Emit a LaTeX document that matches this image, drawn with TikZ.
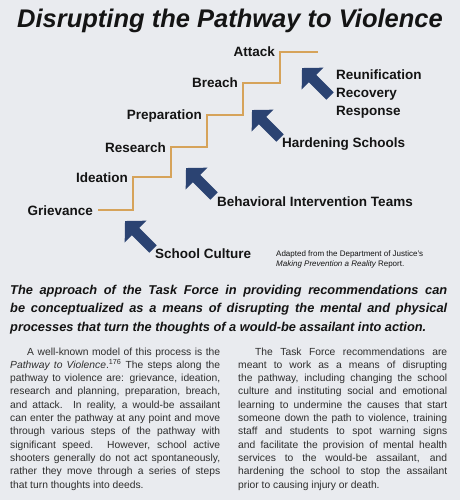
\documentclass[tikz,border=0pt]{standalone}
\usepackage{fontspec}
\setmainfont{Liberation Sans}
\usetikzlibrary{arrows.meta}
\definecolor{bgc}{HTML}{E9EBEF}
\definecolor{stepc}{HTML}{D6A35A}
\definecolor{navy}{HTML}{2B4372}
\definecolor{ink}{HTML}{141414}
\definecolor{bodyc}{HTML}{2E2E2E}
\begin{document}
\begin{tikzpicture}[x=1pt,y=-1pt,
  steplabel/.style={font=\fontsize{13.5}{16}\selectfont\bfseries, text=ink, inner sep=0pt, anchor=base east},
  armlabel/.style={font=\fontsize{13.5}{16}\selectfont\bfseries, text=ink, inner sep=0pt, anchor=base west},
  stairline/.style={draw=stepc, line width=2.4pt, line join=miter},
  blockarrow/.style={draw=navy, line width=10.5pt, -{Triangle[width=30pt,length=15pt]}},
  notetext/.style={font=\fontsize{8}{10}\selectfont, text=ink, inner sep=0pt, anchor=base west},
  bodytext/.style={font=\fontsize{10.3}{13.3}\selectfont, text=bodyc, inner sep=0pt, anchor=base west, text width=210pt, align=justify},
]
\fill[bgc] (0,0) rectangle (460,500);
\useasboundingbox (0,0) rectangle (460,500);

% title
\node[font=\fontsize{25.5}{30}\selectfont\bfseries\itshape, text=ink, inner sep=0pt, anchor=base] (title) at (230,28) {Disrupting the Pathway to Violence};

% staircase
\coordinate (g0) at (98,210);
\coordinate (g1) at (133,210);
\coordinate (i1) at (133,177);
\coordinate (i2) at (171,177);
\coordinate (r1) at (171,147);
\coordinate (r2) at (207,147);
\coordinate (p1) at (207,115);
\coordinate (p2) at (243,115);
\coordinate (b1) at (243,83);
\coordinate (b2) at (280,83);
\coordinate (a1) at (280,52);
\coordinate (a2) at (318,52);
\draw[stairline] (g0) -- (g1) -- (i1) -- (i2) -- (r1) -- (r2) -- (p1) -- (p2) -- (b1) -- (b2) -- (a1) -- (a2);

% step labels
\node[steplabel] (grievance) at (93,215) {Grievance};
\node[steplabel] (ideation) at (128,182) {Ideation};
\node[steplabel] (research) at (166,152) {Research};
\node[steplabel] (preparation) at (202,120) {Preparation};
\node[steplabel] (breach) at (238,88) {Breach};
\node[steplabel] (attack) at (275,57) {Attack};

% arrows
\coordinate (t1) at (125,221); \coordinate (s1) at (153,249);
\coordinate (t2) at (186,168); \coordinate (s2) at (214,196);
\coordinate (t3) at (252,110); \coordinate (s3) at (280,138);
\coordinate (t4) at (302,68);  \coordinate (s4) at (330,96);
\draw[blockarrow] (s1) -- (t1);
\draw[blockarrow] (s2) -- (t2);
\draw[blockarrow] (s3) -- (t3);
\draw[blockarrow] (s4) -- (t4);

% arrow labels
\node[armlabel] (culture) at (155,258) {School Culture};
\node[armlabel] (bit) at (217,206.5) {Behavioral Intervention Teams};
\node[armlabel] (hardening) at (282,147) {Hardening Schools};
\node[armlabel] (reunif) at (336,80) {Reunification};
\node[armlabel] (recovery) at (336,98) {Recovery};
\node[armlabel] (response) at (336,116) {Response};

% source note
\node[notetext] (note1) at (276,256.5) {Adapted from the Department of Justice’s};
\node[notetext] (note2) at (276,266.5) {\itshape Making Prevention a Reality\upshape\ Report.};

% bold italic statement
\node[font=\fontsize{12.8}{18.5}\selectfont\bfseries\itshape, text=ink, inner sep=0pt, anchor=base west, text width=437pt, align=justify] (statement) at (10,294) {\hyphenpenalty=10000\tolerance=10000 The approach of the Task Force in providing recommendations can\linebreak be conceptualized as a means of disrupting the mental and physical\linebreak processes that turn the thoughts of a would-be assailant into action.};

% body columns
\node[bodytext] (leftcol) at (10,355) {\hyphenpenalty=10000\tolerance=10000\hspace*{17pt}A well-known model of this process is the\linebreak \textit{Pathway to Violence}.\textsuperscript{176} The steps along the\linebreak pathway to violence are: grievance, ideation,\linebreak research and planning, preparation, breach,\linebreak and attack. In reality, a would-be assailant\linebreak can enter the pathway at any point and move\linebreak through various steps of the pathway with\linebreak significant speed. However, school active\linebreak shooters generally do not act spontaneously,\linebreak rather they move through a series of steps\linebreak that turn thoughts into deeds.};
\node[bodytext, text width=209pt] (rightcol) at (238,355) {\hyphenpenalty=10000\tolerance=10000\hspace*{17pt}The Task Force recommendations are\linebreak meant to work as a means of disrupting\linebreak the pathway, including changing the school\linebreak culture and instituting social and emotional\linebreak learning to undermine the causes that start\linebreak someone down the path to violence, training\linebreak staff and students to spot warning signs\linebreak and facilitate the provision of mental health\linebreak services to the would-be assailant, and\linebreak hardening the school to stop the assailant\linebreak prior to causing injury or death.};
\end{tikzpicture}
\end{document}
